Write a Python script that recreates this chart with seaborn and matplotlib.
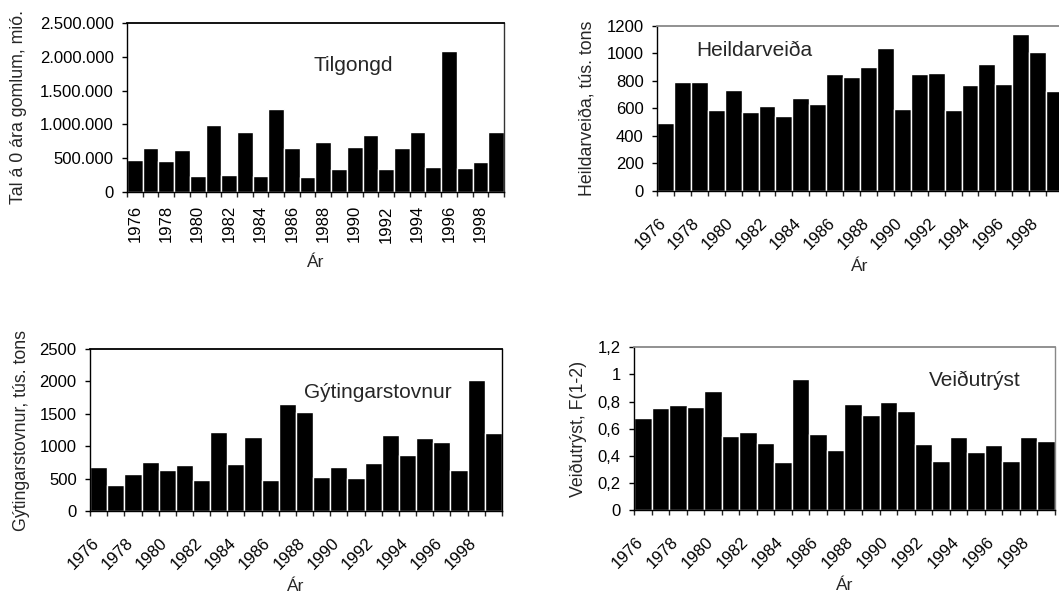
import numpy as np
import matplotlib
matplotlib.use("Agg")
import matplotlib.pyplot as plt
import matplotlib.transforms as mtransforms
from matplotlib.ticker import FuncFormatter
import seaborn as sns

sns.set_style("ticks")
plt.rcParams['font.family'] = ['Liberation Sans', 'DejaVu Sans']

years = list(range(1976, 2000))
year_labels = [str(y) for y in years[::2]]

# recruitment, 0-group (millions)
tilgongd = [470000, 650000, 460000, 620000, 240000, 990000, 255000, 880000,
            240000, 1230000, 650000, 215000, 740000, 340000, 670000, 850000,
            340000, 650000, 890000, 370000, 2090000, 360000, 450000, 880000]
# total catch, thousand tons
heildarveida = [494, 789, 791, 586, 736, 576, 617, 544, 673, 629, 852, 830,
                898, 1043, 598, 847, 861, 588, 772, 924, 781, 1144, 1009, 728]
# spawning stock, thousand tons
gytingarstovnur = [683, 400, 575, 765, 631, 708, 477, 1222, 729, 1140, 477, 1648,
                   1530, 529, 688, 508, 739, 1181, 873, 1129, 1063, 642, 2028, 1201]
# fishing mortality F(1-2)
veidutryst = [0.679, 0.75, 0.777, 0.757, 0.88, 0.548, 0.575, 0.492, 0.357, 0.964,
              0.563, 0.44, 0.782, 0.698, 0.794, 0.733, 0.487, 0.361, 0.538, 0.428,
              0.477, 0.361, 0.541, 0.507]

fig = plt.figure(figsize=(10.59, 5.94), dpi=100)

def thousands(v, pos):
    return f"{int(round(v)):,}".replace(",", ".")

def comma_dec(v, pos):
    s = f"{v:.1f}".rstrip("0").rstrip(".")
    return s.replace(".", ",")

panels = [
    dict(rect=[0.1199, 0.6768, 0.356, 0.2845], data=tilgongd,
         ylabel="Tal á 0 ára gomlum, mió.", ylim=2500000, step=500000, fmt=thousands,
         text="Tilgongd", tx=0.5995, ty=0.747, ha="center", rot=90,
         xl=-0.42, yl=-0.2865, topc="black", rightc="#333333"),
    dict(rect=[0.6204, 0.6785, 0.3834, 0.2778], data=heildarveida,
         ylabel="Heildarveiða, tús. tons", ylim=1200, step=200, fmt=None,
         text="Heildarveiða", tx=0.096, ty=0.849, ha="left", rot=45,
         xl=-0.458, yl=-0.1724, topc="#888888", rightc="#888888"),
    dict(rect=[0.085, 0.1392, 0.389, 0.2732], data=gytingarstovnur,
         ylabel="Gýtingarstovnur, tús. tons", ylim=2500, step=500, fmt=None,
         text="Gýtingarstovnur", tx=0.519, ty=0.735, ha="left", rot=45,
         xl=-0.466, yl=-0.1675, topc="black", rightc="black"),
    dict(rect=[0.5987, 0.1414, 0.3975, 0.2739], data=veidutryst,
         ylabel="Veiðutrýst, F(1-2)", ylim=1.2, step=0.2, fmt=comma_dec,
         text="Veiðutrýst", tx=0.70, ty=0.799, ha="left", rot=45,
         xl=-0.467, yl=-0.133, topc="#888888", rightc="#888888"),
]

for p in panels:
    ax = fig.add_axes(p["rect"])
    sns.barplot(x=years, y=p["data"], ax=ax, color="black", saturation=1,
                width=1, edgecolor="white", linewidth=1.0)
    ax.set_xlim(-0.5, len(years) - 0.5)
    ax.set_ylim(0, p["ylim"])
    ax.set_yticks(np.arange(0, p["ylim"] + p["step"] / 2, p["step"]))
    if p["fmt"] is not None:
        ax.yaxis.set_major_formatter(FuncFormatter(p["fmt"]))

    # labels on every other bar, tick marks between the bars
    ax.set_xticks(range(0, len(years), 2))
    ax.set_xticks(np.arange(-0.5, len(years), 1), minor=True)
    if p["rot"] == 90:
        ax.set_xticklabels(year_labels, rotation=90)
        ax.tick_params(axis="x", which="major", length=0, pad=9.5)
    else:
        ax.set_xticklabels(year_labels, rotation=45, ha="right", va="center",
                           rotation_mode="anchor")
        ax.tick_params(axis="x", which="major", length=0, pad=21)
    ax.tick_params(axis="x", which="minor", length=3.6, width=1, direction="out")
    ax.tick_params(axis="both", labelsize=12, colors="black")
    ax.tick_params(axis="y", length=3.6, width=1, direction="out", pad=6)
    if p["rot"] != 90:
        shift = mtransforms.ScaledTranslation(-0.02, 0, fig.dpi_scale_trans)
        for lab in ax.get_xticklabels():
            lab.set_transform(lab.get_transform() + shift)

    for side in ["left", "bottom"]:
        ax.spines[side].set_color("black")
        ax.spines[side].set_linewidth(1.0)
    ax.spines["top"].set_color(p["topc"])
    ax.spines["top"].set_linewidth(1.3)
    ax.spines["right"].set_color(p["rightc"])
    ax.spines["right"].set_linewidth(1.0)

    ax.set_xlabel("Ár", fontsize=12.5, va="center")
    ax.xaxis.set_label_coords(0.5, p["xl"])
    ax.set_ylabel(p["ylabel"], fontsize=12.8, va="center")
    ax.yaxis.set_label_coords(p["yl"], 0.5)

    ax.text(p["tx"], p["ty"], p["text"], transform=ax.transAxes, fontsize=15,
            ha=p["ha"], va="center")

fig.savefig("out.png", dpi=100)
